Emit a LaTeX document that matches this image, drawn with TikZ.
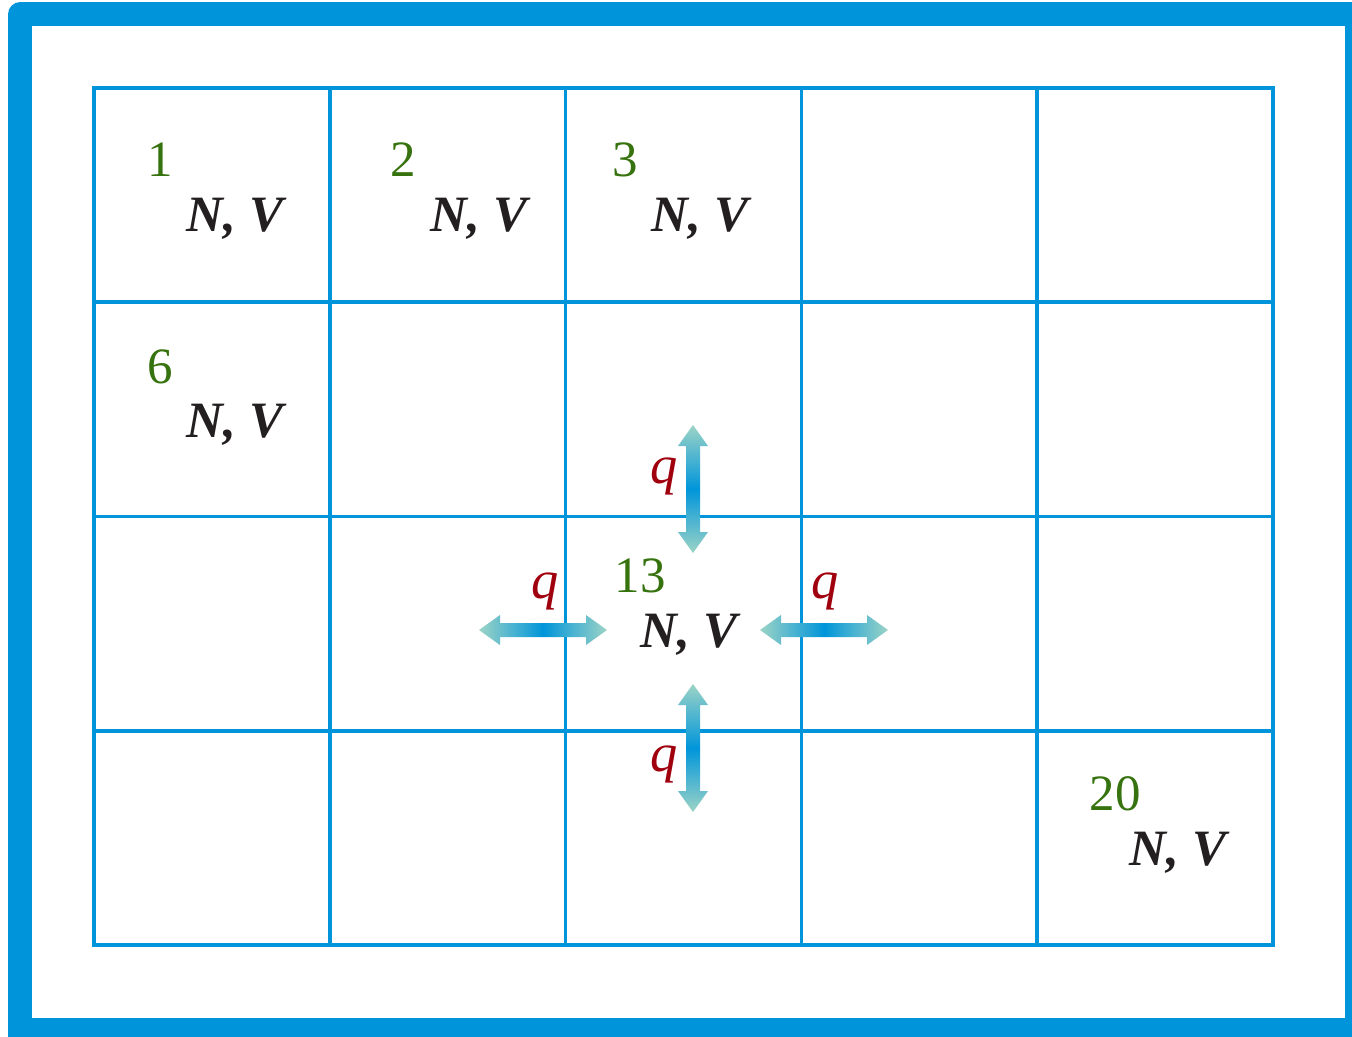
\documentclass[tikz,border=0pt]{standalone}
\usepackage{fontspec}
\setmainfont{LiberationSerif}[Extension=.ttf, UprightFont=*-Regular, BoldFont=*-Bold, ItalicFont=*-Italic, BoldItalicFont=*-BoldItalic]
\definecolor{frameblue}{HTML}{0095DA}
\definecolor{arrowtip}{HTML}{9CD4C6}
\definecolor{numgreen}{HTML}{36720E}
\definecolor{flowred}{HTML}{A0000E}
\definecolor{textblack}{HTML}{231F20}

\begin{document}
\begin{tikzpicture}[x=0.02cm,y=-0.02cm,gridline/.style={draw=frameblue, line width=2.1pt},cellno/.style={text=numgreen, font=\fontsize{29}{34}\selectfont, inner sep=0pt, anchor=base},state/.style={text=textblack, font=\fontsize{29}{34}\selectfont\bfseries\itshape, inner sep=0pt, anchor=base},flow/.style={text=flowred, font=\fontsize{31}{36}\selectfont\itshape, inner sep=0pt, anchor=base},hshaft/.style={left color=arrowtip, right color=arrowtip, middle color=frameblue},vshaft/.style={top color=arrowtip, bottom color=arrowtip, middle color=frameblue}]
\useasboundingbox (0,0) rectangle (1352,1036);
% outer frame
\begin{scope}
\clip (0,0) rectangle (1352,1036);
\fill[frameblue, rounded corners=7pt] (8,2) rectangle (1375,1055);
\fill[white] (32,26) rectangle (1345,1018);
\end{scope}
% cells
\draw[gridline] (94,88) rectangle (1273,945);
\foreach \i in {1,...,4} \draw[gridline] ({94+235.8*\i},88) -- ({94+235.8*\i},945);
\foreach \j in {1,2,3} \draw[gridline] (94,{88+214.25*\j}) -- (1273,{88+214.25*\j});
% exchange arrows
\foreach \xa/\ya in {479/630, 760/630} \shade[hshaft] (\xa,\ya) -- ++(21,-15) -- ++(0,8) -- ++(86,0) -- ++(0,-8) -- ++(21,15) -- ++(-21,15) -- ++(0,-8) -- ++(-86,0) -- ++(0,8) -- cycle;
\foreach \xa/\ya in {693/425, 693/684} \shade[vshaft] (\xa,\ya) -- ++(-15,21) -- ++(8,0) -- ++(0,86) -- ++(-8,0) -- ++(15,21) -- ++(15,-21) -- ++(-8,0) -- ++(0,-86) -- ++(8,0) -- cycle;
% cell labels
\node[cellno] (n1) at (160,176) {1}; \node[state] (s1) at (235,231) {N, V};
\node[cellno] (n2) at (403,176) {2}; \node[state] (s2) at (479,231) {N, V};
\node[cellno] (n3) at (625,176) {3}; \node[state] (s3) at (700,231) {N, V};
\node[cellno] (n6) at (160,383) {6}; \node[state] (s6) at (235,437) {N, V};
\node[cellno] (n13) at (640,592) {13}; \node[state] (s13) at (689,647) {N, V};
\node[cellno] (n20) at (1115,810) {20}; \node[state] (s20) at (1178,865) {N, V};
% flows
\node[flow] (qn) at (664,483) {q};
\node[flow] (qw) at (545,598) {q};
\node[flow] (qe) at (825,598) {q};
\node[flow] (qs) at (664,771) {q};
\end{tikzpicture}
\end{document}
